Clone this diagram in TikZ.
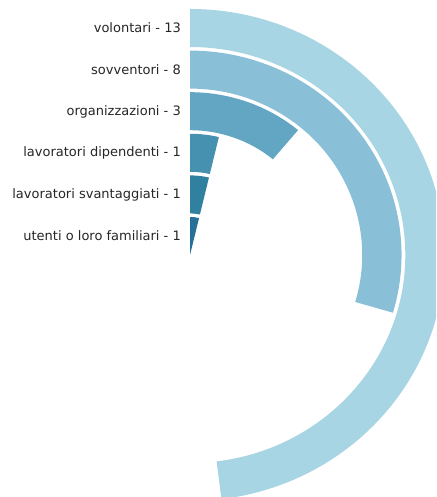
\documentclass[tikz,border=0pt]{standalone}
\usepackage{fontspec}
\setmainfont{DejaVu Sans}
\usetikzlibrary{calc}
\definecolor{b1}{HTML}{A8D5E3}
\definecolor{b2}{HTML}{89C0D8}
\definecolor{b3}{HTML}{62A6C4}
\definecolor{b4}{HTML}{4690B0}
\definecolor{b5}{HTML}{3080A0}
\definecolor{b6}{HTML}{287098}
\definecolor{lbl}{HTML}{262626}
\tikzset{
  lab/.style={anchor=east, inner sep=0pt, text=lbl, font=\fontsize{13}{15}\selectfont},
}
\begin{document}
\begin{tikzpicture}[x=1pt,y=1pt]
\useasboundingbox (0,0) rectangle (436,497);
\begin{scope}
\clip (0,0) rectangle (436,497);
\coordinate (C) at (190,242);
\def\unit{13.3}
\def\sx{1.035}
% ring bars: outer radius, inner radius, value, colour
\foreach \ro/\ri/\v/\c in {246/208/13/b1, 204.4/166.4/8/b2, 162.8/124.8/3/b3, 121.2/83.2/1/b4, 79.6/41.6/1/b5}{
  \pgfmathsetmacro\ea{90-\v*\unit}
  \pgfmathsetmacro\rox{\ro*\sx}
  \pgfmathsetmacro\rix{\ri*\sx}
  \fill[\c] ($(C)+(90:\rox pt and \ro pt)$) arc[start angle=90, end angle=\ea, x radius=\rox pt, y radius=\ro pt]
     -- ($(C)+(\ea:\rix pt and \ri pt)$) arc[start angle=\ea, end angle=90, x radius=\rix pt, y radius=\ri pt] -- cycle;
}
\pgfmathsetmacro\eb{90-1*\unit}
\pgfmathsetmacro\rsx{38*\sx}
\fill[b6] (C) -- ($(C)+(90:\rsx pt and 38pt)$) arc[start angle=90, end angle=\eb, x radius=\rsx pt, y radius=38pt] -- cycle;
\end{scope}
\node[lab] (l1) at (181,469) {volontari - 13};
\node[lab] (l2) at (181,427) {sovventori - 8};
\node[lab] (l3) at (181,385.5) {organizzazioni - 3};
\node[lab] (l4) at (181,344) {lavoratori dipendenti - 1};
\node[lab] (l5) at (181,302) {lavoratori svantaggiati - 1};
\node[lab] (l6) at (181,261) {utenti o loro familiari - 1};
\end{tikzpicture}
\end{document}
